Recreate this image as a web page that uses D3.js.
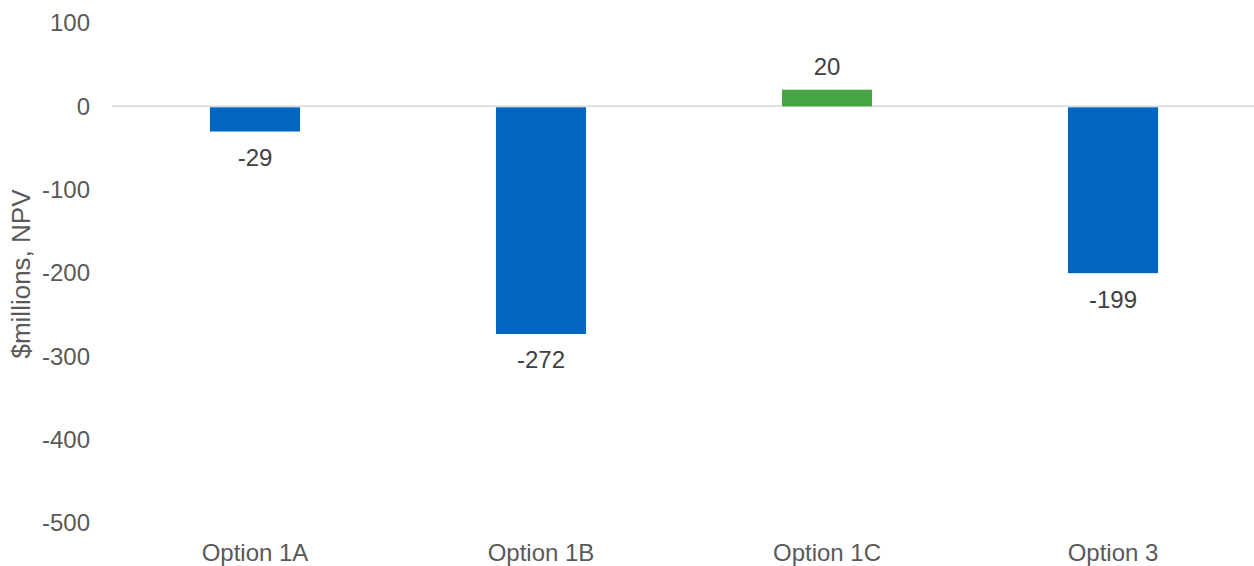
<!DOCTYPE html>
<html><head><meta charset="utf-8">
<script src="https://cdn.jsdelivr.net/npm/d3@7"></script>
<style>body{margin:0;background:#fff}svg{display:block;font-family:"Liberation Sans",Arial,sans-serif}</style>
</head><body>
<svg id="c" width="1254" height="566"></svg>
<script>
const categories = ["Option 1A","Option 1B","Option 1C","Option 3"];
const values = [-29,-272,20,-199];
const yTicks = [100,0,-100,-200,-300,-400,-500];
const yTitle = "$millions, NPV";

const svg = d3.select("#c");
const y = d3.scaleLinear().domain([-500,100]).range([523,23]);
const x = d3.scaleBand().domain(categories).range([112,1256]).paddingInner(0.685).paddingOuter(0.3425);

// y tick labels
svg.append("g").selectAll("text").data(yTicks).join("text")
  .attr("x",90).attr("y",d=>y(d)).attr("dy","0.35em")
  .attr("text-anchor","end").attr("fill","#595959").attr("font-size",24).text(d=>d);

// zero line
svg.append("line").attr("x1",112).attr("x2",1254).attr("y1",y(0)).attr("y2",y(0))
  .attr("stroke","#d9d9d9").attr("stroke-width",1.5);

// bars
svg.append("g").selectAll("rect").data(values).join("rect")
  .attr("x",(d,i)=>x(categories[i])).attr("width",x.bandwidth())
  .attr("y",d=>d>=0?y(d):y(0)+1).attr("height",d=>Math.abs(y(d)-y(0)))
  .attr("fill",d=>d>=0?"#46A544":"#0066BF");

// data labels
svg.append("g").selectAll("text").data(values).join("text")
  .attr("x",(d,i)=>x(categories[i])+x.bandwidth()/2)
  .attr("y",d=>d>=0?y(d)-23:y(d)+27).attr("dy","0.35em")
  .attr("text-anchor","middle").attr("fill","#404040").attr("font-size",24).text(d=>d);

// category labels
svg.append("g").selectAll("text").data(categories).join("text")
  .attr("x",d=>x(d)+x.bandwidth()/2).attr("y",553).attr("dy","0.35em")
  .attr("text-anchor","middle").attr("fill","#595959").attr("font-size",24).text(d=>d);

// y title
svg.append("text").attr("transform","translate(21,274) rotate(-90)").attr("dy","0.35em")
  .attr("text-anchor","middle").attr("fill","#595959").attr("font-size",26).text(yTitle);
</script>
</body></html>
